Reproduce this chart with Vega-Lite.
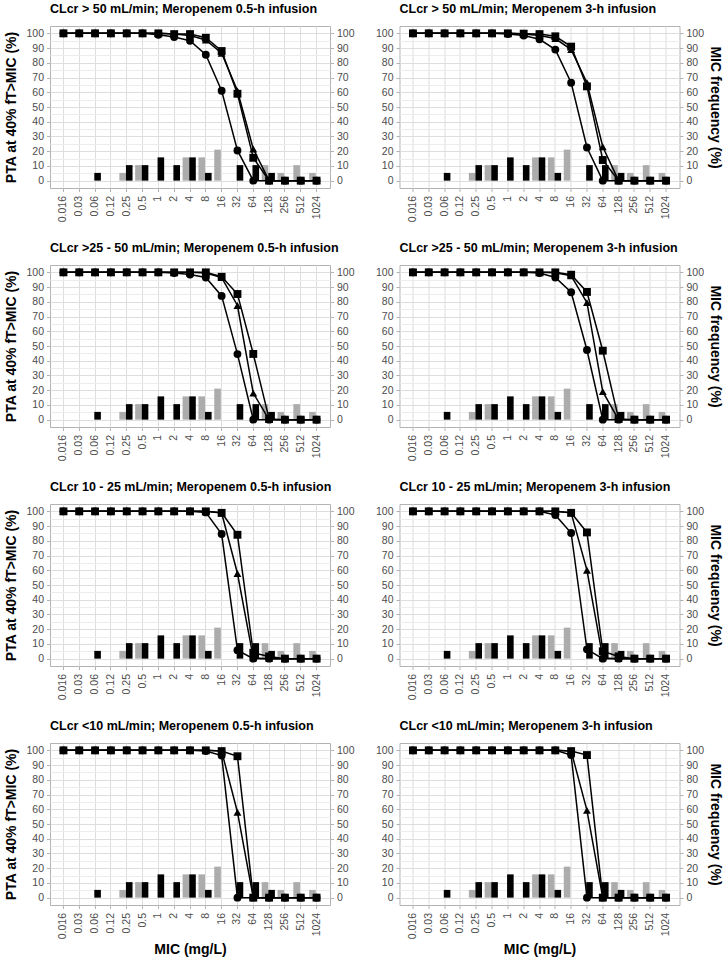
{
"$schema": "https://vega.github.io/schema/vega-lite/v6.json",
"background": "white",
"padding": {"left": 4, "top": 2, "right": 2, "bottom": 4},
"config": {
  "font": "Liberation Sans",
  "view": {"stroke": "#b3b3b3", "strokeWidth": 1},
  "axis": {"labelFont": "Liberation Sans", "labelFontSize": 10.5, "labelColor": "#4d4d4d", "titleFont": "Liberation Sans", "titleFontSize": 14, "titleFontWeight": "bold", "titleColor": "#000000", "domain": false, "tickColor": "#b3b3b3", "tickSize": 3.5, "tickWidth": 1, "gridColor": "#dedede", "gridWidth": 1, "labelPadding": 3},
  "title": {"font": "Liberation Sans", "fontSize": 12.5, "fontWeight": "bold", "color": "#000000", "anchor": "start", "frame": "group", "offset": 11}
},
"datasets": {
"freq": [
{"mic":"0.06","grp":"black","freq":5.26},
{"mic":"0.25","grp":"grey","freq":5.26},
{"mic":"0.25","grp":"black","freq":10.53},
{"mic":"0.5","grp":"grey","freq":10.53},
{"mic":"0.5","grp":"black","freq":10.53},
{"mic":"1","grp":"black","freq":15.79},
{"mic":"2","grp":"black","freq":10.53},
{"mic":"4","grp":"grey","freq":15.79},
{"mic":"4","grp":"black","freq":15.79},
{"mic":"8","grp":"grey","freq":15.79},
{"mic":"8","grp":"black","freq":5.26},
{"mic":"16","grp":"grey","freq":21.05},
{"mic":"32","grp":"black","freq":10.53},
{"mic":"64","grp":"black","freq":10.53},
{"mic":"128","grp":"grey","freq":10.53},
{"mic":"128","grp":"black","freq":5.26},
{"mic":"256","grp":"grey","freq":5.26},
{"mic":"512","grp":"grey","freq":10.53},
{"mic":"1024","grp":"grey","freq":5.26}
],
"pta": [
{"p":1,"s":"c","mic":"0.016","pta":100},{"p":1,"s":"c","mic":"0.03","pta":100},{"p":1,"s":"c","mic":"0.06","pta":100},{"p":1,"s":"c","mic":"0.12","pta":100},{"p":1,"s":"c","mic":"0.25","pta":100},{"p":1,"s":"c","mic":"0.5","pta":100},{"p":1,"s":"c","mic":"1","pta":99},{"p":1,"s":"c","mic":"2","pta":97.5},{"p":1,"s":"c","mic":"4","pta":95},{"p":1,"s":"c","mic":"8","pta":85.5},{"p":1,"s":"c","mic":"16","pta":61},{"p":1,"s":"c","mic":"32","pta":20.5},{"p":1,"s":"c","mic":"64","pta":0},{"p":1,"s":"c","mic":"128","pta":0},{"p":1,"s":"c","mic":"256","pta":0},{"p":1,"s":"c","mic":"512","pta":0},{"p":1,"s":"c","mic":"1024","pta":0},
{"p":1,"s":"t","mic":"0.016","pta":100},{"p":1,"s":"t","mic":"0.03","pta":100},{"p":1,"s":"t","mic":"0.06","pta":100},{"p":1,"s":"t","mic":"0.12","pta":100},{"p":1,"s":"t","mic":"0.25","pta":100},{"p":1,"s":"t","mic":"0.5","pta":100},{"p":1,"s":"t","mic":"1","pta":100},{"p":1,"s":"t","mic":"2","pta":99.5},{"p":1,"s":"t","mic":"4","pta":98.5},{"p":1,"s":"t","mic":"8","pta":95.5},{"p":1,"s":"t","mic":"16","pta":86.5},{"p":1,"s":"t","mic":"32","pta":61},{"p":1,"s":"t","mic":"64","pta":21.5},{"p":1,"s":"t","mic":"128","pta":0},{"p":1,"s":"t","mic":"256","pta":0},{"p":1,"s":"t","mic":"512","pta":0},{"p":1,"s":"t","mic":"1024","pta":0},
{"p":1,"s":"s","mic":"0.016","pta":100},{"p":1,"s":"s","mic":"0.03","pta":100},{"p":1,"s":"s","mic":"0.06","pta":100},{"p":1,"s":"s","mic":"0.12","pta":100},{"p":1,"s":"s","mic":"0.25","pta":100},{"p":1,"s":"s","mic":"0.5","pta":100},{"p":1,"s":"s","mic":"1","pta":100},{"p":1,"s":"s","mic":"2","pta":99.5},{"p":1,"s":"s","mic":"4","pta":99.5},{"p":1,"s":"s","mic":"8","pta":97},{"p":1,"s":"s","mic":"16","pta":88},{"p":1,"s":"s","mic":"32","pta":59},{"p":1,"s":"s","mic":"64","pta":15.5},{"p":1,"s":"s","mic":"128","pta":0},{"p":1,"s":"s","mic":"256","pta":0},{"p":1,"s":"s","mic":"512","pta":0},{"p":1,"s":"s","mic":"1024","pta":0},
{"p":2,"s":"c","mic":"0.016","pta":100},{"p":2,"s":"c","mic":"0.03","pta":100},{"p":2,"s":"c","mic":"0.06","pta":100},{"p":2,"s":"c","mic":"0.12","pta":100},{"p":2,"s":"c","mic":"0.25","pta":100},{"p":2,"s":"c","mic":"0.5","pta":100},{"p":2,"s":"c","mic":"1","pta":99.5},{"p":2,"s":"c","mic":"2","pta":98.5},{"p":2,"s":"c","mic":"4","pta":96},{"p":2,"s":"c","mic":"8","pta":89},{"p":2,"s":"c","mic":"16","pta":66.5},{"p":2,"s":"c","mic":"32","pta":22.5},{"p":2,"s":"c","mic":"64","pta":0},{"p":2,"s":"c","mic":"128","pta":0},{"p":2,"s":"c","mic":"256","pta":0},{"p":2,"s":"c","mic":"512","pta":0},{"p":2,"s":"c","mic":"1024","pta":0},
{"p":2,"s":"t","mic":"0.016","pta":100},{"p":2,"s":"t","mic":"0.03","pta":100},{"p":2,"s":"t","mic":"0.06","pta":100},{"p":2,"s":"t","mic":"0.12","pta":100},{"p":2,"s":"t","mic":"0.25","pta":100},{"p":2,"s":"t","mic":"0.5","pta":100},{"p":2,"s":"t","mic":"1","pta":100},{"p":2,"s":"t","mic":"2","pta":99.5},{"p":2,"s":"t","mic":"4","pta":98.5},{"p":2,"s":"t","mic":"8","pta":96.5},{"p":2,"s":"t","mic":"16","pta":89},{"p":2,"s":"t","mic":"32","pta":66.5},{"p":2,"s":"t","mic":"64","pta":23},{"p":2,"s":"t","mic":"128","pta":0},{"p":2,"s":"t","mic":"256","pta":0},{"p":2,"s":"t","mic":"512","pta":0},{"p":2,"s":"t","mic":"1024","pta":0},
{"p":2,"s":"s","mic":"0.016","pta":100},{"p":2,"s":"s","mic":"0.03","pta":100},{"p":2,"s":"s","mic":"0.06","pta":100},{"p":2,"s":"s","mic":"0.12","pta":100},{"p":2,"s":"s","mic":"0.25","pta":100},{"p":2,"s":"s","mic":"0.5","pta":100},{"p":2,"s":"s","mic":"1","pta":100},{"p":2,"s":"s","mic":"2","pta":99.8},{"p":2,"s":"s","mic":"4","pta":99.5},{"p":2,"s":"s","mic":"8","pta":98},{"p":2,"s":"s","mic":"16","pta":91},{"p":2,"s":"s","mic":"32","pta":64},{"p":2,"s":"s","mic":"64","pta":14},{"p":2,"s":"s","mic":"128","pta":0},{"p":2,"s":"s","mic":"256","pta":0},{"p":2,"s":"s","mic":"512","pta":0},{"p":2,"s":"s","mic":"1024","pta":0},
{"p":3,"s":"c","mic":"0.016","pta":100},{"p":3,"s":"c","mic":"0.03","pta":100},{"p":3,"s":"c","mic":"0.06","pta":100},{"p":3,"s":"c","mic":"0.12","pta":100},{"p":3,"s":"c","mic":"0.25","pta":100},{"p":3,"s":"c","mic":"0.5","pta":100},{"p":3,"s":"c","mic":"1","pta":100},{"p":3,"s":"c","mic":"2","pta":99.5},{"p":3,"s":"c","mic":"4","pta":98.5},{"p":3,"s":"c","mic":"8","pta":96.5},{"p":3,"s":"c","mic":"16","pta":84},{"p":3,"s":"c","mic":"32","pta":44.5},{"p":3,"s":"c","mic":"64","pta":0},{"p":3,"s":"c","mic":"128","pta":0},{"p":3,"s":"c","mic":"256","pta":0},{"p":3,"s":"c","mic":"512","pta":0},{"p":3,"s":"c","mic":"1024","pta":0},
{"p":3,"s":"t","mic":"0.016","pta":100},{"p":3,"s":"t","mic":"0.03","pta":100},{"p":3,"s":"t","mic":"0.06","pta":100},{"p":3,"s":"t","mic":"0.12","pta":100},{"p":3,"s":"t","mic":"0.25","pta":100},{"p":3,"s":"t","mic":"0.5","pta":100},{"p":3,"s":"t","mic":"1","pta":100},{"p":3,"s":"t","mic":"2","pta":100},{"p":3,"s":"t","mic":"4","pta":100},{"p":3,"s":"t","mic":"8","pta":99.5},{"p":3,"s":"t","mic":"16","pta":96.5},{"p":3,"s":"t","mic":"32","pta":77.5},{"p":3,"s":"t","mic":"64","pta":18},{"p":3,"s":"t","mic":"128","pta":0},{"p":3,"s":"t","mic":"256","pta":0},{"p":3,"s":"t","mic":"512","pta":0},{"p":3,"s":"t","mic":"1024","pta":0},
{"p":3,"s":"s","mic":"0.016","pta":100},{"p":3,"s":"s","mic":"0.03","pta":100},{"p":3,"s":"s","mic":"0.06","pta":100},{"p":3,"s":"s","mic":"0.12","pta":100},{"p":3,"s":"s","mic":"0.25","pta":100},{"p":3,"s":"s","mic":"0.5","pta":100},{"p":3,"s":"s","mic":"1","pta":100},{"p":3,"s":"s","mic":"2","pta":100},{"p":3,"s":"s","mic":"4","pta":100},{"p":3,"s":"s","mic":"8","pta":100},{"p":3,"s":"s","mic":"16","pta":97},{"p":3,"s":"s","mic":"32","pta":85.3},{"p":3,"s":"s","mic":"64","pta":44.6},{"p":3,"s":"s","mic":"128","pta":0.5},{"p":3,"s":"s","mic":"256","pta":0},{"p":3,"s":"s","mic":"512","pta":0},{"p":3,"s":"s","mic":"1024","pta":0},
{"p":4,"s":"c","mic":"0.016","pta":100},{"p":4,"s":"c","mic":"0.03","pta":100},{"p":4,"s":"c","mic":"0.06","pta":100},{"p":4,"s":"c","mic":"0.12","pta":100},{"p":4,"s":"c","mic":"0.25","pta":100},{"p":4,"s":"c","mic":"0.5","pta":100},{"p":4,"s":"c","mic":"1","pta":100},{"p":4,"s":"c","mic":"2","pta":100},{"p":4,"s":"c","mic":"4","pta":99.5},{"p":4,"s":"c","mic":"8","pta":96.5},{"p":4,"s":"c","mic":"16","pta":86.5},{"p":4,"s":"c","mic":"32","pta":47.3},{"p":4,"s":"c","mic":"64","pta":0},{"p":4,"s":"c","mic":"128","pta":0},{"p":4,"s":"c","mic":"256","pta":0},{"p":4,"s":"c","mic":"512","pta":0},{"p":4,"s":"c","mic":"1024","pta":0},
{"p":4,"s":"t","mic":"0.016","pta":100},{"p":4,"s":"t","mic":"0.03","pta":100},{"p":4,"s":"t","mic":"0.06","pta":100},{"p":4,"s":"t","mic":"0.12","pta":100},{"p":4,"s":"t","mic":"0.25","pta":100},{"p":4,"s":"t","mic":"0.5","pta":100},{"p":4,"s":"t","mic":"1","pta":100},{"p":4,"s":"t","mic":"2","pta":100},{"p":4,"s":"t","mic":"4","pta":100},{"p":4,"s":"t","mic":"8","pta":99.7},{"p":4,"s":"t","mic":"16","pta":97.7},{"p":4,"s":"t","mic":"32","pta":79.4},{"p":4,"s":"t","mic":"64","pta":19},{"p":4,"s":"t","mic":"128","pta":0},{"p":4,"s":"t","mic":"256","pta":0},{"p":4,"s":"t","mic":"512","pta":0},{"p":4,"s":"t","mic":"1024","pta":0},
{"p":4,"s":"s","mic":"0.016","pta":100},{"p":4,"s":"s","mic":"0.03","pta":100},{"p":4,"s":"s","mic":"0.06","pta":100},{"p":4,"s":"s","mic":"0.12","pta":100},{"p":4,"s":"s","mic":"0.25","pta":100},{"p":4,"s":"s","mic":"0.5","pta":100},{"p":4,"s":"s","mic":"1","pta":100},{"p":4,"s":"s","mic":"2","pta":100},{"p":4,"s":"s","mic":"4","pta":100},{"p":4,"s":"s","mic":"8","pta":100},{"p":4,"s":"s","mic":"16","pta":98.4},{"p":4,"s":"s","mic":"32","pta":86.7},{"p":4,"s":"s","mic":"64","pta":46.8},{"p":4,"s":"s","mic":"128","pta":0.5},{"p":4,"s":"s","mic":"256","pta":0},{"p":4,"s":"s","mic":"512","pta":0},{"p":4,"s":"s","mic":"1024","pta":0},
{"p":5,"s":"c","mic":"0.016","pta":100},{"p":5,"s":"c","mic":"0.03","pta":100},{"p":5,"s":"c","mic":"0.06","pta":100},{"p":5,"s":"c","mic":"0.12","pta":100},{"p":5,"s":"c","mic":"0.25","pta":100},{"p":5,"s":"c","mic":"0.5","pta":100},{"p":5,"s":"c","mic":"1","pta":100},{"p":5,"s":"c","mic":"2","pta":100},{"p":5,"s":"c","mic":"4","pta":100},{"p":5,"s":"c","mic":"8","pta":99.3},{"p":5,"s":"c","mic":"16","pta":84.6},{"p":5,"s":"c","mic":"32","pta":5.7},{"p":5,"s":"c","mic":"64","pta":0},{"p":5,"s":"c","mic":"128","pta":0},{"p":5,"s":"c","mic":"256","pta":0},{"p":5,"s":"c","mic":"512","pta":0},{"p":5,"s":"c","mic":"1024","pta":0},
{"p":5,"s":"t","mic":"0.016","pta":100},{"p":5,"s":"t","mic":"0.03","pta":100},{"p":5,"s":"t","mic":"0.06","pta":100},{"p":5,"s":"t","mic":"0.12","pta":100},{"p":5,"s":"t","mic":"0.25","pta":100},{"p":5,"s":"t","mic":"0.5","pta":100},{"p":5,"s":"t","mic":"1","pta":100},{"p":5,"s":"t","mic":"2","pta":100},{"p":5,"s":"t","mic":"4","pta":100},{"p":5,"s":"t","mic":"8","pta":100},{"p":5,"s":"t","mic":"16","pta":98.9},{"p":5,"s":"t","mic":"32","pta":57.8},{"p":5,"s":"t","mic":"64","pta":0.5},{"p":5,"s":"t","mic":"128","pta":0},{"p":5,"s":"t","mic":"256","pta":0},{"p":5,"s":"t","mic":"512","pta":0},{"p":5,"s":"t","mic":"1024","pta":0},
{"p":5,"s":"s","mic":"0.016","pta":100},{"p":5,"s":"s","mic":"0.03","pta":100},{"p":5,"s":"s","mic":"0.06","pta":100},{"p":5,"s":"s","mic":"0.12","pta":100},{"p":5,"s":"s","mic":"0.25","pta":100},{"p":5,"s":"s","mic":"0.5","pta":100},{"p":5,"s":"s","mic":"1","pta":100},{"p":5,"s":"s","mic":"2","pta":100},{"p":5,"s":"s","mic":"4","pta":100},{"p":5,"s":"s","mic":"8","pta":100},{"p":5,"s":"s","mic":"16","pta":99},{"p":5,"s":"s","mic":"32","pta":84.1},{"p":5,"s":"s","mic":"64","pta":4},{"p":5,"s":"s","mic":"128","pta":1.5},{"p":5,"s":"s","mic":"256","pta":0},{"p":5,"s":"s","mic":"512","pta":0},{"p":5,"s":"s","mic":"1024","pta":0},
{"p":6,"s":"c","mic":"0.016","pta":100},{"p":6,"s":"c","mic":"0.03","pta":100},{"p":6,"s":"c","mic":"0.06","pta":100},{"p":6,"s":"c","mic":"0.12","pta":100},{"p":6,"s":"c","mic":"0.25","pta":100},{"p":6,"s":"c","mic":"0.5","pta":100},{"p":6,"s":"c","mic":"1","pta":100},{"p":6,"s":"c","mic":"2","pta":100},{"p":6,"s":"c","mic":"4","pta":100},{"p":6,"s":"c","mic":"8","pta":97.5},{"p":6,"s":"c","mic":"16","pta":85.3},{"p":6,"s":"c","mic":"32","pta":6.3},{"p":6,"s":"c","mic":"64","pta":0},{"p":6,"s":"c","mic":"128","pta":0},{"p":6,"s":"c","mic":"256","pta":0},{"p":6,"s":"c","mic":"512","pta":0},{"p":6,"s":"c","mic":"1024","pta":0},
{"p":6,"s":"t","mic":"0.016","pta":100},{"p":6,"s":"t","mic":"0.03","pta":100},{"p":6,"s":"t","mic":"0.06","pta":100},{"p":6,"s":"t","mic":"0.12","pta":100},{"p":6,"s":"t","mic":"0.25","pta":100},{"p":6,"s":"t","mic":"0.5","pta":100},{"p":6,"s":"t","mic":"1","pta":100},{"p":6,"s":"t","mic":"2","pta":100},{"p":6,"s":"t","mic":"4","pta":100},{"p":6,"s":"t","mic":"8","pta":100},{"p":6,"s":"t","mic":"16","pta":99},{"p":6,"s":"t","mic":"32","pta":60},{"p":6,"s":"t","mic":"64","pta":0.5},{"p":6,"s":"t","mic":"128","pta":0},{"p":6,"s":"t","mic":"256","pta":0},{"p":6,"s":"t","mic":"512","pta":0},{"p":6,"s":"t","mic":"1024","pta":0},
{"p":6,"s":"s","mic":"0.016","pta":100},{"p":6,"s":"s","mic":"0.03","pta":100},{"p":6,"s":"s","mic":"0.06","pta":100},{"p":6,"s":"s","mic":"0.12","pta":100},{"p":6,"s":"s","mic":"0.25","pta":100},{"p":6,"s":"s","mic":"0.5","pta":100},{"p":6,"s":"s","mic":"1","pta":100},{"p":6,"s":"s","mic":"2","pta":100},{"p":6,"s":"s","mic":"4","pta":100},{"p":6,"s":"s","mic":"8","pta":100},{"p":6,"s":"s","mic":"16","pta":99},{"p":6,"s":"s","mic":"32","pta":85.7},{"p":6,"s":"s","mic":"64","pta":5},{"p":6,"s":"s","mic":"128","pta":1.5},{"p":6,"s":"s","mic":"256","pta":0},{"p":6,"s":"s","mic":"512","pta":0},{"p":6,"s":"s","mic":"1024","pta":0},
{"p":7,"s":"c","mic":"0.016","pta":100},{"p":7,"s":"c","mic":"0.03","pta":100},{"p":7,"s":"c","mic":"0.06","pta":100},{"p":7,"s":"c","mic":"0.12","pta":100},{"p":7,"s":"c","mic":"0.25","pta":100},{"p":7,"s":"c","mic":"0.5","pta":100},{"p":7,"s":"c","mic":"1","pta":100},{"p":7,"s":"c","mic":"2","pta":100},{"p":7,"s":"c","mic":"4","pta":100},{"p":7,"s":"c","mic":"8","pta":99.5},{"p":7,"s":"c","mic":"16","pta":96.5},{"p":7,"s":"c","mic":"32","pta":0},{"p":7,"s":"c","mic":"64","pta":0},{"p":7,"s":"c","mic":"128","pta":0},{"p":7,"s":"c","mic":"256","pta":0},{"p":7,"s":"c","mic":"512","pta":0},{"p":7,"s":"c","mic":"1024","pta":0},
{"p":7,"s":"t","mic":"0.016","pta":100},{"p":7,"s":"t","mic":"0.03","pta":100},{"p":7,"s":"t","mic":"0.06","pta":100},{"p":7,"s":"t","mic":"0.12","pta":100},{"p":7,"s":"t","mic":"0.25","pta":100},{"p":7,"s":"t","mic":"0.5","pta":100},{"p":7,"s":"t","mic":"1","pta":100},{"p":7,"s":"t","mic":"2","pta":100},{"p":7,"s":"t","mic":"4","pta":100},{"p":7,"s":"t","mic":"8","pta":100},{"p":7,"s":"t","mic":"16","pta":99.5},{"p":7,"s":"t","mic":"32","pta":58},{"p":7,"s":"t","mic":"64","pta":0},{"p":7,"s":"t","mic":"128","pta":0},{"p":7,"s":"t","mic":"256","pta":0},{"p":7,"s":"t","mic":"512","pta":0},{"p":7,"s":"t","mic":"1024","pta":0},
{"p":7,"s":"s","mic":"0.016","pta":100},{"p":7,"s":"s","mic":"0.03","pta":100},{"p":7,"s":"s","mic":"0.06","pta":100},{"p":7,"s":"s","mic":"0.12","pta":100},{"p":7,"s":"s","mic":"0.25","pta":100},{"p":7,"s":"s","mic":"0.5","pta":100},{"p":7,"s":"s","mic":"1","pta":100},{"p":7,"s":"s","mic":"2","pta":100},{"p":7,"s":"s","mic":"4","pta":100},{"p":7,"s":"s","mic":"8","pta":100},{"p":7,"s":"s","mic":"16","pta":99.5},{"p":7,"s":"s","mic":"32","pta":96},{"p":7,"s":"s","mic":"64","pta":0},{"p":7,"s":"s","mic":"128","pta":0},{"p":7,"s":"s","mic":"256","pta":0},{"p":7,"s":"s","mic":"512","pta":0},{"p":7,"s":"s","mic":"1024","pta":0},
{"p":8,"s":"c","mic":"0.016","pta":100},{"p":8,"s":"c","mic":"0.03","pta":100},{"p":8,"s":"c","mic":"0.06","pta":100},{"p":8,"s":"c","mic":"0.12","pta":100},{"p":8,"s":"c","mic":"0.25","pta":100},{"p":8,"s":"c","mic":"0.5","pta":100},{"p":8,"s":"c","mic":"1","pta":100},{"p":8,"s":"c","mic":"2","pta":100},{"p":8,"s":"c","mic":"4","pta":100},{"p":8,"s":"c","mic":"8","pta":100},{"p":8,"s":"c","mic":"16","pta":96.8},{"p":8,"s":"c","mic":"32","pta":0},{"p":8,"s":"c","mic":"64","pta":0},{"p":8,"s":"c","mic":"128","pta":0},{"p":8,"s":"c","mic":"256","pta":0},{"p":8,"s":"c","mic":"512","pta":0},{"p":8,"s":"c","mic":"1024","pta":0},
{"p":8,"s":"t","mic":"0.016","pta":100},{"p":8,"s":"t","mic":"0.03","pta":100},{"p":8,"s":"t","mic":"0.06","pta":100},{"p":8,"s":"t","mic":"0.12","pta":100},{"p":8,"s":"t","mic":"0.25","pta":100},{"p":8,"s":"t","mic":"0.5","pta":100},{"p":8,"s":"t","mic":"1","pta":100},{"p":8,"s":"t","mic":"2","pta":100},{"p":8,"s":"t","mic":"4","pta":100},{"p":8,"s":"t","mic":"8","pta":100},{"p":8,"s":"t","mic":"16","pta":99.5},{"p":8,"s":"t","mic":"32","pta":59.3},{"p":8,"s":"t","mic":"64","pta":0},{"p":8,"s":"t","mic":"128","pta":0},{"p":8,"s":"t","mic":"256","pta":0},{"p":8,"s":"t","mic":"512","pta":0},{"p":8,"s":"t","mic":"1024","pta":0},
{"p":8,"s":"s","mic":"0.016","pta":100},{"p":8,"s":"s","mic":"0.03","pta":100},{"p":8,"s":"s","mic":"0.06","pta":100},{"p":8,"s":"s","mic":"0.12","pta":100},{"p":8,"s":"s","mic":"0.25","pta":100},{"p":8,"s":"s","mic":"0.5","pta":100},{"p":8,"s":"s","mic":"1","pta":100},{"p":8,"s":"s","mic":"2","pta":100},{"p":8,"s":"s","mic":"4","pta":100},{"p":8,"s":"s","mic":"8","pta":100},{"p":8,"s":"s","mic":"16","pta":99.5},{"p":8,"s":"s","mic":"32","pta":96.8},{"p":8,"s":"s","mic":"64","pta":0},{"p":8,"s":"s","mic":"128","pta":0},{"p":8,"s":"s","mic":"256","pta":0},{"p":8,"s":"s","mic":"512","pta":0},{"p":8,"s":"s","mic":"1024","pta":0}
]
},
"columns": 2,
"spacing": {"row": 77, "column": 69.5},
"bounds": "flush",
"concat": [
{"width": 280, "height": 162, "title": "CLcr > 50 mL/min; Meropenem 0.5-h infusion",
 "encoding": {"x": {"field": "mic", "type": "ordinal", "sort": ["0.016","0.03","0.06","0.12","0.25","0.5","1","2","4","8","16","32","64","128","256","512","1024"], "scale": {"domain": ["0.016","0.03","0.06","0.12","0.25","0.5","1","2","4","8","16","32","64","128","256","512","1024"], "paddingInner": 0, "paddingOuter": 0.35}, "axis": {"title": null, "labelAngle": 270, "grid": true, "labelPadding": 4}}},
 "layer": [
  {"data": {"name": "freq"}, "mark": {"type": "bar"}, "encoding": {"xOffset": {"field": "grp", "type": "nominal", "scale": {"domain": ["grey","black"], "paddingInner": 0, "paddingOuter": 0.2, "align": 0.2}}, "y": {"field": "freq", "type": "quantitative", "stack": null, "scale": {"domain": [-5,105], "nice": false}, "axis": {"orient": "right", "values": [0,10,20,30,40,50,60,70,80,90,100], "grid": false, "title": null}}, "color": {"field": "grp", "type": "nominal", "scale": {"domain": ["grey","black"], "range": ["#acacac","#000000"]}, "legend": null}}},
  {"data": {"name": "pta"}, "transform": [{"filter": "datum.p === 1"}],
   "encoding": {"y": {"field": "pta", "type": "quantitative", "scale": {"domain": [-5,105], "nice": false}, "axis": {"orient": "left", "grid": true, "values": [0,5,10,15,20,25,30,35,40,45,50,55,60,65,70,75,80,85,90,95,100], "labelExpr": "datum.value % 10 === 0 ? datum.label : ''", "gridColor": {"condition": {"test": "datum.value % 10 === 5", "value": "#ececec"}, "value": "#dedede"}, "tickOpacity": {"condition": {"test": "datum.value % 10 === 5", "value": 0}, "value": 1}, "title": "PTA at 40% fT>MIC (%)", "titlePadding": 7}}},
   "layer": [
    {"mark": {"type": "line", "color": "#000000", "strokeWidth": 1.5}, "encoding": {"detail": {"field": "s", "type": "nominal"}}},
    {"mark": {"type": "point", "filled": true, "color": "#000000", "opacity": 1, "size": 62}, "encoding": {"shape": {"field": "s", "type": "nominal", "scale": {"domain": ["c","t","s"], "range": ["circle","triangle-up","square"]}, "legend": null}}}
   ]}
 ],
 "resolve": {"scale": {"y": "independent"}}
},
{"width": 280, "height": 162, "title": "CLcr > 50 mL/min; Meropenem 3-h infusion",
 "encoding": {"x": {"field": "mic", "type": "ordinal", "sort": ["0.016","0.03","0.06","0.12","0.25","0.5","1","2","4","8","16","32","64","128","256","512","1024"], "scale": {"domain": ["0.016","0.03","0.06","0.12","0.25","0.5","1","2","4","8","16","32","64","128","256","512","1024"], "paddingInner": 0, "paddingOuter": 0.35}, "axis": {"title": null, "labelAngle": 270, "grid": true, "labelPadding": 4}}},
 "layer": [
  {"data": {"name": "freq"}, "mark": {"type": "bar"}, "encoding": {"xOffset": {"field": "grp", "type": "nominal", "scale": {"domain": ["grey","black"], "paddingInner": 0, "paddingOuter": 0.2, "align": 0.2}}, "y": {"field": "freq", "type": "quantitative", "stack": null, "scale": {"domain": [-5,105], "nice": false}, "axis": {"orient": "right", "values": [0,10,20,30,40,50,60,70,80,90,100], "grid": false, "title": "MIC frequency (%)", "titlePadding": 4}}, "color": {"field": "grp", "type": "nominal", "scale": {"domain": ["grey","black"], "range": ["#acacac","#000000"]}, "legend": null}}},
  {"data": {"name": "pta"}, "transform": [{"filter": "datum.p === 2"}],
   "encoding": {"y": {"field": "pta", "type": "quantitative", "scale": {"domain": [-5,105], "nice": false}, "axis": {"orient": "left", "grid": true, "values": [0,5,10,15,20,25,30,35,40,45,50,55,60,65,70,75,80,85,90,95,100], "labelExpr": "datum.value % 10 === 0 ? datum.label : ''", "gridColor": {"condition": {"test": "datum.value % 10 === 5", "value": "#ececec"}, "value": "#dedede"}, "tickOpacity": {"condition": {"test": "datum.value % 10 === 5", "value": 0}, "value": 1}, "title": null}}},
   "layer": [
    {"mark": {"type": "line", "color": "#000000", "strokeWidth": 1.5}, "encoding": {"detail": {"field": "s", "type": "nominal"}}},
    {"mark": {"type": "point", "filled": true, "color": "#000000", "opacity": 1, "size": 62}, "encoding": {"shape": {"field": "s", "type": "nominal", "scale": {"domain": ["c","t","s"], "range": ["circle","triangle-up","square"]}, "legend": null}}}
   ]}
 ],
 "resolve": {"scale": {"y": "independent"}}
},
{"width": 280, "height": 162, "title": "CLcr >25 - 50 mL/min; Meropenem 0.5-h infusion",
 "encoding": {"x": {"field": "mic", "type": "ordinal", "sort": ["0.016","0.03","0.06","0.12","0.25","0.5","1","2","4","8","16","32","64","128","256","512","1024"], "scale": {"domain": ["0.016","0.03","0.06","0.12","0.25","0.5","1","2","4","8","16","32","64","128","256","512","1024"], "paddingInner": 0, "paddingOuter": 0.35}, "axis": {"title": null, "labelAngle": 270, "grid": true, "labelPadding": 4}}},
 "layer": [
  {"data": {"name": "freq"}, "mark": {"type": "bar"}, "encoding": {"xOffset": {"field": "grp", "type": "nominal", "scale": {"domain": ["grey","black"], "paddingInner": 0, "paddingOuter": 0.2, "align": 0.2}}, "y": {"field": "freq", "type": "quantitative", "stack": null, "scale": {"domain": [-5,105], "nice": false}, "axis": {"orient": "right", "values": [0,10,20,30,40,50,60,70,80,90,100], "grid": false, "title": null}}, "color": {"field": "grp", "type": "nominal", "scale": {"domain": ["grey","black"], "range": ["#acacac","#000000"]}, "legend": null}}},
  {"data": {"name": "pta"}, "transform": [{"filter": "datum.p === 3"}],
   "encoding": {"y": {"field": "pta", "type": "quantitative", "scale": {"domain": [-5,105], "nice": false}, "axis": {"orient": "left", "grid": true, "values": [0,5,10,15,20,25,30,35,40,45,50,55,60,65,70,75,80,85,90,95,100], "labelExpr": "datum.value % 10 === 0 ? datum.label : ''", "gridColor": {"condition": {"test": "datum.value % 10 === 5", "value": "#ececec"}, "value": "#dedede"}, "tickOpacity": {"condition": {"test": "datum.value % 10 === 5", "value": 0}, "value": 1}, "title": "PTA at 40% fT>MIC (%)", "titlePadding": 7}}},
   "layer": [
    {"mark": {"type": "line", "color": "#000000", "strokeWidth": 1.5}, "encoding": {"detail": {"field": "s", "type": "nominal"}}},
    {"mark": {"type": "point", "filled": true, "color": "#000000", "opacity": 1, "size": 62}, "encoding": {"shape": {"field": "s", "type": "nominal", "scale": {"domain": ["c","t","s"], "range": ["circle","triangle-up","square"]}, "legend": null}}}
   ]}
 ],
 "resolve": {"scale": {"y": "independent"}}
},
{"width": 280, "height": 162, "title": "CLcr >25 - 50 mL/min; Meropenem 3-h infusion",
 "encoding": {"x": {"field": "mic", "type": "ordinal", "sort": ["0.016","0.03","0.06","0.12","0.25","0.5","1","2","4","8","16","32","64","128","256","512","1024"], "scale": {"domain": ["0.016","0.03","0.06","0.12","0.25","0.5","1","2","4","8","16","32","64","128","256","512","1024"], "paddingInner": 0, "paddingOuter": 0.35}, "axis": {"title": null, "labelAngle": 270, "grid": true, "labelPadding": 4}}},
 "layer": [
  {"data": {"name": "freq"}, "mark": {"type": "bar"}, "encoding": {"xOffset": {"field": "grp", "type": "nominal", "scale": {"domain": ["grey","black"], "paddingInner": 0, "paddingOuter": 0.2, "align": 0.2}}, "y": {"field": "freq", "type": "quantitative", "stack": null, "scale": {"domain": [-5,105], "nice": false}, "axis": {"orient": "right", "values": [0,10,20,30,40,50,60,70,80,90,100], "grid": false, "title": "MIC frequency (%)", "titlePadding": 4}}, "color": {"field": "grp", "type": "nominal", "scale": {"domain": ["grey","black"], "range": ["#acacac","#000000"]}, "legend": null}}},
  {"data": {"name": "pta"}, "transform": [{"filter": "datum.p === 4"}],
   "encoding": {"y": {"field": "pta", "type": "quantitative", "scale": {"domain": [-5,105], "nice": false}, "axis": {"orient": "left", "grid": true, "values": [0,5,10,15,20,25,30,35,40,45,50,55,60,65,70,75,80,85,90,95,100], "labelExpr": "datum.value % 10 === 0 ? datum.label : ''", "gridColor": {"condition": {"test": "datum.value % 10 === 5", "value": "#ececec"}, "value": "#dedede"}, "tickOpacity": {"condition": {"test": "datum.value % 10 === 5", "value": 0}, "value": 1}, "title": null}}},
   "layer": [
    {"mark": {"type": "line", "color": "#000000", "strokeWidth": 1.5}, "encoding": {"detail": {"field": "s", "type": "nominal"}}},
    {"mark": {"type": "point", "filled": true, "color": "#000000", "opacity": 1, "size": 62}, "encoding": {"shape": {"field": "s", "type": "nominal", "scale": {"domain": ["c","t","s"], "range": ["circle","triangle-up","square"]}, "legend": null}}}
   ]}
 ],
 "resolve": {"scale": {"y": "independent"}}
},
{"width": 280, "height": 162, "title": "CLcr 10 - 25 mL/min; Meropenem 0.5-h infusion",
 "encoding": {"x": {"field": "mic", "type": "ordinal", "sort": ["0.016","0.03","0.06","0.12","0.25","0.5","1","2","4","8","16","32","64","128","256","512","1024"], "scale": {"domain": ["0.016","0.03","0.06","0.12","0.25","0.5","1","2","4","8","16","32","64","128","256","512","1024"], "paddingInner": 0, "paddingOuter": 0.35}, "axis": {"title": null, "labelAngle": 270, "grid": true, "labelPadding": 4}}},
 "layer": [
  {"data": {"name": "freq"}, "mark": {"type": "bar"}, "encoding": {"xOffset": {"field": "grp", "type": "nominal", "scale": {"domain": ["grey","black"], "paddingInner": 0, "paddingOuter": 0.2, "align": 0.2}}, "y": {"field": "freq", "type": "quantitative", "stack": null, "scale": {"domain": [-5,105], "nice": false}, "axis": {"orient": "right", "values": [0,10,20,30,40,50,60,70,80,90,100], "grid": false, "title": null}}, "color": {"field": "grp", "type": "nominal", "scale": {"domain": ["grey","black"], "range": ["#acacac","#000000"]}, "legend": null}}},
  {"data": {"name": "pta"}, "transform": [{"filter": "datum.p === 5"}],
   "encoding": {"y": {"field": "pta", "type": "quantitative", "scale": {"domain": [-5,105], "nice": false}, "axis": {"orient": "left", "grid": true, "values": [0,5,10,15,20,25,30,35,40,45,50,55,60,65,70,75,80,85,90,95,100], "labelExpr": "datum.value % 10 === 0 ? datum.label : ''", "gridColor": {"condition": {"test": "datum.value % 10 === 5", "value": "#ececec"}, "value": "#dedede"}, "tickOpacity": {"condition": {"test": "datum.value % 10 === 5", "value": 0}, "value": 1}, "title": "PTA at 40% fT>MIC (%)", "titlePadding": 7}}},
   "layer": [
    {"mark": {"type": "line", "color": "#000000", "strokeWidth": 1.5}, "encoding": {"detail": {"field": "s", "type": "nominal"}}},
    {"mark": {"type": "point", "filled": true, "color": "#000000", "opacity": 1, "size": 62}, "encoding": {"shape": {"field": "s", "type": "nominal", "scale": {"domain": ["c","t","s"], "range": ["circle","triangle-up","square"]}, "legend": null}}}
   ]}
 ],
 "resolve": {"scale": {"y": "independent"}}
},
{"width": 280, "height": 162, "title": "CLcr 10 - 25 mL/min; Meropenem 3-h infusion",
 "encoding": {"x": {"field": "mic", "type": "ordinal", "sort": ["0.016","0.03","0.06","0.12","0.25","0.5","1","2","4","8","16","32","64","128","256","512","1024"], "scale": {"domain": ["0.016","0.03","0.06","0.12","0.25","0.5","1","2","4","8","16","32","64","128","256","512","1024"], "paddingInner": 0, "paddingOuter": 0.35}, "axis": {"title": null, "labelAngle": 270, "grid": true, "labelPadding": 4}}},
 "layer": [
  {"data": {"name": "freq"}, "mark": {"type": "bar"}, "encoding": {"xOffset": {"field": "grp", "type": "nominal", "scale": {"domain": ["grey","black"], "paddingInner": 0, "paddingOuter": 0.2, "align": 0.2}}, "y": {"field": "freq", "type": "quantitative", "stack": null, "scale": {"domain": [-5,105], "nice": false}, "axis": {"orient": "right", "values": [0,10,20,30,40,50,60,70,80,90,100], "grid": false, "title": "MIC frequency (%)", "titlePadding": 4}}, "color": {"field": "grp", "type": "nominal", "scale": {"domain": ["grey","black"], "range": ["#acacac","#000000"]}, "legend": null}}},
  {"data": {"name": "pta"}, "transform": [{"filter": "datum.p === 6"}],
   "encoding": {"y": {"field": "pta", "type": "quantitative", "scale": {"domain": [-5,105], "nice": false}, "axis": {"orient": "left", "grid": true, "values": [0,5,10,15,20,25,30,35,40,45,50,55,60,65,70,75,80,85,90,95,100], "labelExpr": "datum.value % 10 === 0 ? datum.label : ''", "gridColor": {"condition": {"test": "datum.value % 10 === 5", "value": "#ececec"}, "value": "#dedede"}, "tickOpacity": {"condition": {"test": "datum.value % 10 === 5", "value": 0}, "value": 1}, "title": null}}},
   "layer": [
    {"mark": {"type": "line", "color": "#000000", "strokeWidth": 1.5}, "encoding": {"detail": {"field": "s", "type": "nominal"}}},
    {"mark": {"type": "point", "filled": true, "color": "#000000", "opacity": 1, "size": 62}, "encoding": {"shape": {"field": "s", "type": "nominal", "scale": {"domain": ["c","t","s"], "range": ["circle","triangle-up","square"]}, "legend": null}}}
   ]}
 ],
 "resolve": {"scale": {"y": "independent"}}
},
{"width": 280, "height": 162, "title": "CLcr <10 mL/min; Meropenem 0.5-h infusion",
 "encoding": {"x": {"field": "mic", "type": "ordinal", "sort": ["0.016","0.03","0.06","0.12","0.25","0.5","1","2","4","8","16","32","64","128","256","512","1024"], "scale": {"domain": ["0.016","0.03","0.06","0.12","0.25","0.5","1","2","4","8","16","32","64","128","256","512","1024"], "paddingInner": 0, "paddingOuter": 0.35}, "axis": {"title": "MIC (mg/L)", "titlePadding": 4, "labelAngle": 270, "grid": true, "labelPadding": 4}}},
 "layer": [
  {"data": {"name": "freq"}, "mark": {"type": "bar"}, "encoding": {"xOffset": {"field": "grp", "type": "nominal", "scale": {"domain": ["grey","black"], "paddingInner": 0, "paddingOuter": 0.2, "align": 0.2}}, "y": {"field": "freq", "type": "quantitative", "stack": null, "scale": {"domain": [-5,105], "nice": false}, "axis": {"orient": "right", "values": [0,10,20,30,40,50,60,70,80,90,100], "grid": false, "title": null}}, "color": {"field": "grp", "type": "nominal", "scale": {"domain": ["grey","black"], "range": ["#acacac","#000000"]}, "legend": null}}},
  {"data": {"name": "pta"}, "transform": [{"filter": "datum.p === 7"}],
   "encoding": {"y": {"field": "pta", "type": "quantitative", "scale": {"domain": [-5,105], "nice": false}, "axis": {"orient": "left", "grid": true, "values": [0,5,10,15,20,25,30,35,40,45,50,55,60,65,70,75,80,85,90,95,100], "labelExpr": "datum.value % 10 === 0 ? datum.label : ''", "gridColor": {"condition": {"test": "datum.value % 10 === 5", "value": "#ececec"}, "value": "#dedede"}, "tickOpacity": {"condition": {"test": "datum.value % 10 === 5", "value": 0}, "value": 1}, "title": "PTA at 40% fT>MIC (%)", "titlePadding": 7}}},
   "layer": [
    {"mark": {"type": "line", "color": "#000000", "strokeWidth": 1.5}, "encoding": {"detail": {"field": "s", "type": "nominal"}}},
    {"mark": {"type": "point", "filled": true, "color": "#000000", "opacity": 1, "size": 62}, "encoding": {"shape": {"field": "s", "type": "nominal", "scale": {"domain": ["c","t","s"], "range": ["circle","triangle-up","square"]}, "legend": null}}}
   ]}
 ],
 "resolve": {"scale": {"y": "independent"}}
},
{"width": 280, "height": 162, "title": "CLcr <10 mL/min; Meropenem 3-h infusion",
 "encoding": {"x": {"field": "mic", "type": "ordinal", "sort": ["0.016","0.03","0.06","0.12","0.25","0.5","1","2","4","8","16","32","64","128","256","512","1024"], "scale": {"domain": ["0.016","0.03","0.06","0.12","0.25","0.5","1","2","4","8","16","32","64","128","256","512","1024"], "paddingInner": 0, "paddingOuter": 0.35}, "axis": {"title": "MIC (mg/L)", "titlePadding": 4, "labelAngle": 270, "grid": true, "labelPadding": 4}}},
 "layer": [
  {"data": {"name": "freq"}, "mark": {"type": "bar"}, "encoding": {"xOffset": {"field": "grp", "type": "nominal", "scale": {"domain": ["grey","black"], "paddingInner": 0, "paddingOuter": 0.2, "align": 0.2}}, "y": {"field": "freq", "type": "quantitative", "stack": null, "scale": {"domain": [-5,105], "nice": false}, "axis": {"orient": "right", "values": [0,10,20,30,40,50,60,70,80,90,100], "grid": false, "title": "MIC frequency (%)", "titlePadding": 4}}, "color": {"field": "grp", "type": "nominal", "scale": {"domain": ["grey","black"], "range": ["#acacac","#000000"]}, "legend": null}}},
  {"data": {"name": "pta"}, "transform": [{"filter": "datum.p === 8"}],
   "encoding": {"y": {"field": "pta", "type": "quantitative", "scale": {"domain": [-5,105], "nice": false}, "axis": {"orient": "left", "grid": true, "values": [0,5,10,15,20,25,30,35,40,45,50,55,60,65,70,75,80,85,90,95,100], "labelExpr": "datum.value % 10 === 0 ? datum.label : ''", "gridColor": {"condition": {"test": "datum.value % 10 === 5", "value": "#ececec"}, "value": "#dedede"}, "tickOpacity": {"condition": {"test": "datum.value % 10 === 5", "value": 0}, "value": 1}, "title": null}}},
   "layer": [
    {"mark": {"type": "line", "color": "#000000", "strokeWidth": 1.5}, "encoding": {"detail": {"field": "s", "type": "nominal"}}},
    {"mark": {"type": "point", "filled": true, "color": "#000000", "opacity": 1, "size": 62}, "encoding": {"shape": {"field": "s", "type": "nominal", "scale": {"domain": ["c","t","s"], "range": ["circle","triangle-up","square"]}, "legend": null}}}
   ]}
 ],
 "resolve": {"scale": {"y": "independent"}}
}
]
}
